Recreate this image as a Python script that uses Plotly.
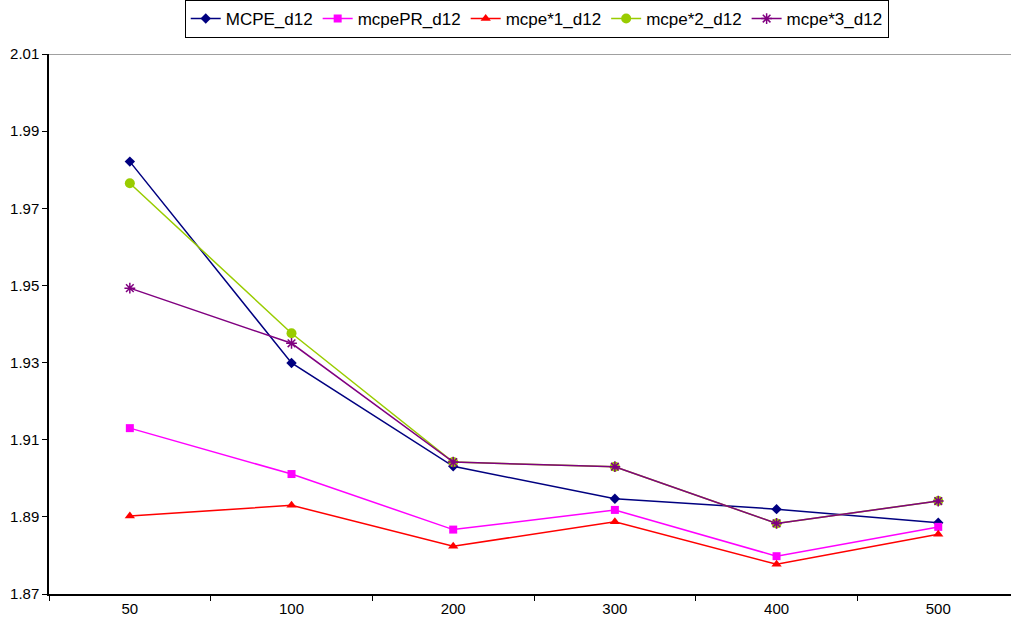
import plotly.graph_objects as go

# Sample sizes on the category axis
categories = ["50", "100", "200", "300", "400", "500"]

# Series values
mcpe_d12 = [1.9821, 1.9299, 1.9031, 1.8947, 1.8920, 1.8885]
mcpepr_d12 = [1.9130, 1.9011, 1.8867, 1.8918, 1.8798, 1.8874]
mcpe1_d12 = [1.8902, 1.8930, 1.8824, 1.8887, 1.8777, 1.8855]
mcpe2_d12 = [1.9765, 1.9376, 1.9042, 1.9030, 1.8883, 1.8941]
mcpe3_d12 = [1.9493, 1.9350, 1.9042, 1.9030, 1.8883, 1.8941]

# Y-axis tick labels
y_ticks = [1.87, 1.89, 1.91, 1.93, 1.95, 1.97, 1.99, 2.01]

series = [
    ("MCPE_d12", mcpe_d12, "#000080", dict(symbol="diamond", size=8)),
    ("mcpePR_d12", mcpepr_d12, "#FF00FF", dict(symbol="square", size=8)),
    ("mcpe*1_d12", mcpe1_d12, "#FF0000", dict(symbol="triangle-up", size=9)),
    ("mcpe*2_d12", mcpe2_d12, "#99CC00", dict(symbol="circle", size=10)),
    ("mcpe*3_d12", mcpe3_d12, "#800080",
     dict(symbol="asterisk-open", size=9, line=dict(width=1.5, color="#800080"))),
]

fig = go.Figure()
for name, vals, color, marker in series:
    m = dict(color=color, **marker)
    fig.add_trace(go.Scatter(
        x=categories, y=vals, name=name, mode="lines+markers",
        line=dict(color=color, width=1.5), marker=m,
    ))

font = "Liberation Sans, Arial, sans-serif"

fig.update_layout(
    width=1012, height=628,
    margin=dict(l=49, r=1, t=53, b=34),
    plot_bgcolor="white", paper_bgcolor="white",
    font=dict(family=font, size=15, color="black"),
    showlegend=True,
    legend=dict(
        orientation="h", x=0.507, xanchor="center", y=1.098, yanchor="top",
        bordercolor="black", borderwidth=1, bgcolor="white",
        font=dict(family=font, size=17, color="black"),
        itemwidth=30, tracegroupgap=0,
    ),
    xaxis=dict(
        type="category", range=[-0.5, 5.45],
        showgrid=False, zeroline=False,
        showline=True, linecolor="black", linewidth=1.5,
        ticks="outside", tickson="boundaries", ticklen=5, tickcolor="black",
        tickfont=dict(family=font, size=15),
    ),
    yaxis=dict(
        range=[1.87, 2.01], tickvals=y_ticks,
        ticktext=[f"{v:.2f}" for v in y_ticks],
        showgrid=False, zeroline=False,
        showline=True, linecolor="black", linewidth=1.5,
        ticks="outside", ticklen=5, tickcolor="black",
        tickfont=dict(family=font, size=15),
    ),
    shapes=[dict(
        type="line", xref="paper", yref="y", x0=0, x1=1, y0=2.01, y1=2.01,
        line=dict(color="#808080", width=1.5),
    )],
)

fig.write_html("out.html")
